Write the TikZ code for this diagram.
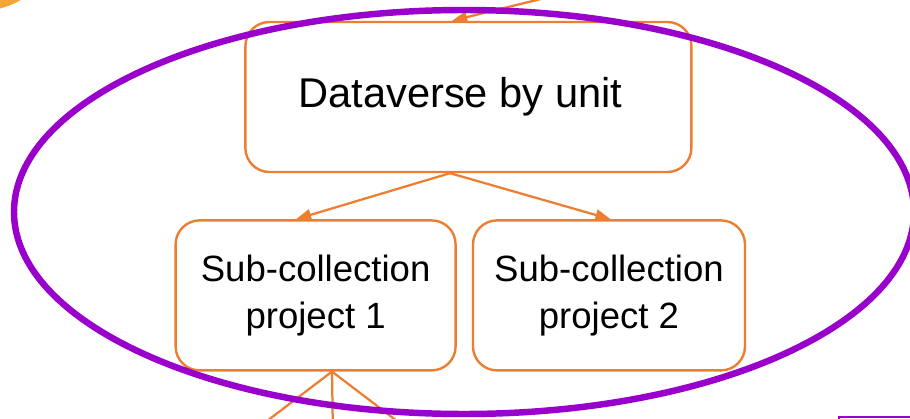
\documentclass[tikz,border=0pt]{standalone}
\usepackage{fontspec}
\setmainfont{Liberation Sans}
\usetikzlibrary{shapes.geometric, arrows.meta, positioning}
\definecolor{boxorange}{RGB}{237,125,49}
\definecolor{ringpurple}{RGB}{153,0,204}
\definecolor{stepamber}{RGB}{244,165,55}

\begin{document}
\begin{tikzpicture}[
    block/.style = {rectangle, draw=boxorange, line width=1.7pt, rounded corners=0.6cm, minimum height=3.75cm, align=center},
    arrow/.style = {draw=boxorange, line width=1.6pt, -{Triangle[length=0.38cm, width=0.28cm]}},
    link/.style = {draw=boxorange, line width=1.6pt}
]
    \useasboundingbox (0,0) rectangle (22.75,10.45);
    \clip (0,0) rectangle (22.75,10.45);

    % Step marker (cut off at the corner)
    \node[circle, fill=stepamber, minimum size=4.05cm] (step) at (-0.5,12.2) {};

    % Unit level collection
    \node[block, minimum width=11.15cm, font=\fontsize{29.6}{34}\selectfont] (unit) at (11.71,8.025) {Dataverse by unit\hspace{0.4cm}};

    % Project sub-collections
    \node[block, minimum width=7.0cm, font=\fontsize{26}{33.5}\selectfont, below left=1.15cm and 0.29cm of unit.south] (sub1) {Sub-collection\\project 1};
    \node[block, minimum width=6.8cm, font=\fontsize{26}{33.5}\selectfont, right=0.375cm of sub1] (sub2) {Sub-collection\\project 2};

    % Box below (cut off)
    \node[rectangle, draw=ringpurple, line width=1pt, outer sep=0pt, anchor=north west, minimum width=3cm, minimum height=2cm] (next) at (20.975,0.02) {};

    % Connecting arrows
    \coordinate (feed) at (14.6,10.74);
    \coordinate (split) at ([xshift=-0.46cm]unit.south);
    \coordinate (fan) at ([xshift=0.41cm]sub1.south);
    \coordinate (outa) at (6.05,-0.55);
    \coordinate (outb) at (8.325,-0.55);
    \coordinate (outc) at (10.55,-0.55);
    \draw[arrow] (feed) -- ([xshift=-0.41cm]unit.north);
    \draw[arrow] (split) -- ([xshift=-0.49cm]sub1.north);
    \draw[arrow] (split) -- ([xshift=0.04cm]sub2.north);
    \draw[link] (fan) -- (outa);
    \draw[link] (fan) -- (outb);
    \draw[link] (fan) -- (outc);

    % Grouping ring
    \node[ellipse, draw=ringpurple, line width=4.6pt, inner sep=0pt, minimum width=22.5cm, minimum height=10.1cm] (group) at (11.6,5.15) {};
\end{tikzpicture}
\end{document}
